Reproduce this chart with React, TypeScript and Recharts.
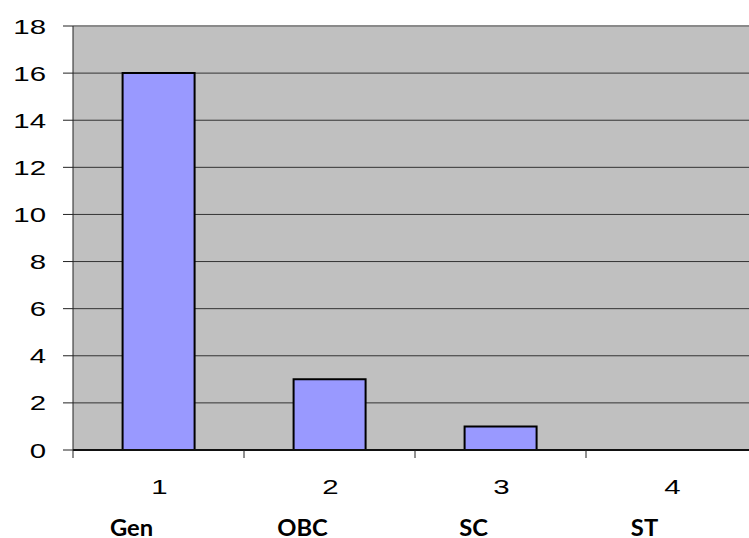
import React from 'react';
import { BarChart, Bar, XAxis, YAxis, CartesianGrid, ReferenceLine } from 'recharts';

const CATEGORIES = ['1', '2', '3', '4'];
const GROUPS = ['Gen', 'OBC', 'SC', 'ST'];
const COUNTS = [16, 3, 1, 0];
const Y_TICKS = [0, 2, 4, 6, 8, 10, 12, 14, 16, 18];

const DATA = CATEGORIES.map((c, i) => ({ name: c, group: GROUPS[i], value: COUNTS[i] }));

const ARIAL = "'Liberation Sans', Arial, sans-serif";

// the original image is stretched sideways, so the text is too
const ValueTick = (props: any) => {
  const { x, y, payload } = props;
  return (
    <text transform={`translate(${x},${y + 7.5}) scale(1.4,1)`} textAnchor="end"
      fontSize={21} fill="#000" fontFamily={ARIAL}>
      {payload.value}
    </text>
  );
};

const CategoryTick = (props: any) => {
  const { x, y, payload, index } = props;
  const half = payload && payload.offset ? payload.offset : 85.5;
  return (
    <g>
      <line x1={x - half} x2={x - half} y1={y} y2={y + 8} stroke="#222" strokeWidth={1} />
      <text transform={`translate(${x + 1},${y + 44}) scale(1.4,1)`} textAnchor="middle"
        fontSize={21} fill="#000" fontFamily={ARIAL}>
        {payload.value}
      </text>
      <text transform={`translate(${x - 27},${y + 86}) scale(1.08,1)`} textAnchor="middle"
        fontSize={22} fontWeight="bold" fill="#000" fontFamily="Lato, 'Open Sans', sans-serif">
        {GROUPS[index]}
      </text>
    </g>
  );
};

export default function App() {
  return (
    <div style={{ position: 'absolute', left: 0, top: 0, width: 749, height: 538, overflow: 'hidden', background: '#fff' }}>
      <BarChart width={760} height={538} data={DATA}
        margin={{ top: 26, right: 3, left: 0, bottom: 0 }} barCategoryGap="29%">
        <CartesianGrid vertical={false} stroke="#333" fill="#c0c0c0" fillOpacity={1} />
        <XAxis dataKey="name" height={88} tickLine={false} tickSize={0} tickMargin={0}
          axisLine={{ stroke: '#111', strokeWidth: 2 }} tick={<CategoryTick />} interval={0} />
        <YAxis width={73} domain={[0, 18]} ticks={Y_TICKS} interval={0} tickSize={10} tickMargin={17}
          axisLine={{ stroke: '#222' }} tickLine={{ stroke: '#222' }} tick={<ValueTick />} />
        <ReferenceLine y={18} stroke="#8a8a8a" strokeWidth={2} />
        <Bar dataKey="value" fill="#9999ff" stroke="#000" strokeWidth={2} isAnimationActive={false} />
      </BarChart>
    </div>
  );
}
